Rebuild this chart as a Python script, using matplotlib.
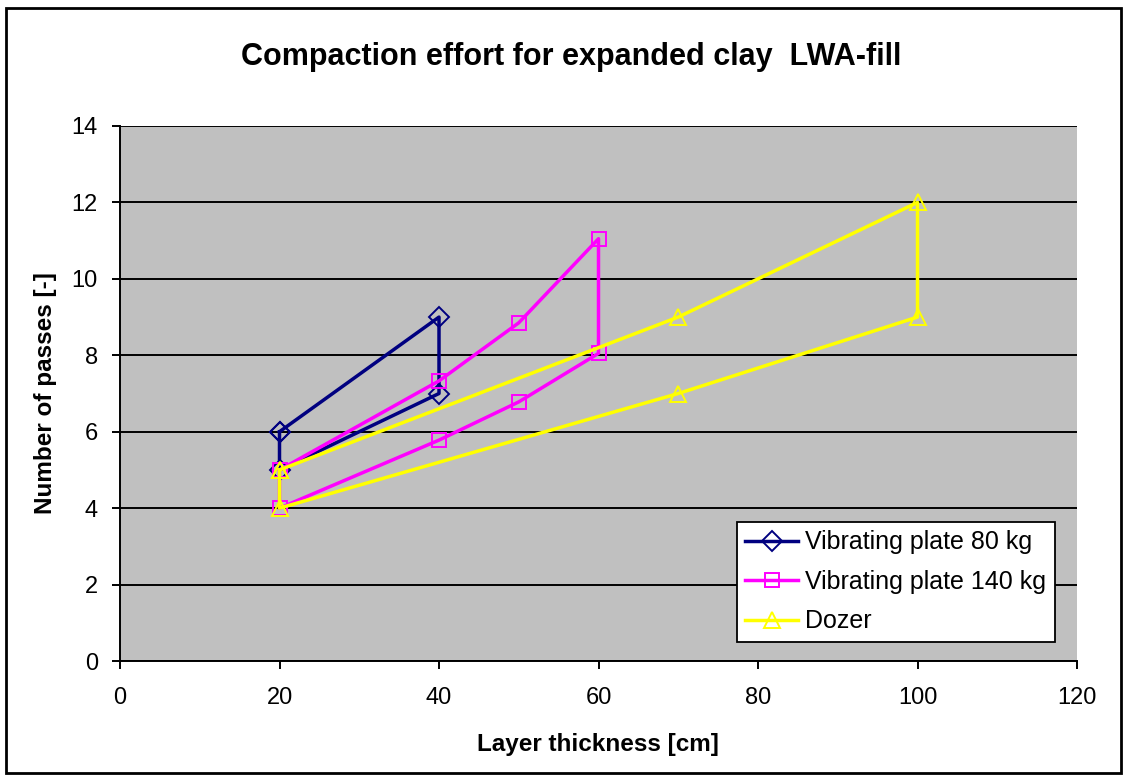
import matplotlib
matplotlib.use("Agg")
import matplotlib.pyplot as plt
from matplotlib.patches import Rectangle

plt.rcParams['font.family'] = ['Liberation Sans', 'DejaVu Sans']

# Data (closed outlines of each compaction range)
vp80_x = [20, 40, 40, 20, 20]
vp80_y = [6, 9, 7, 5, 6]

vp140_x = [20, 40, 50, 60, 60, 50, 40, 20, 20]
vp140_y = [5, 7.33, 8.85, 11.05, 8.05, 6.78, 5.78, 4, 5]

dozer_x = [20, 70, 100, 100, 70, 20, 20]
dozer_y = [5, 9, 12, 9, 7, 4, 5]

labels = ["Vibrating plate 80 kg", "Vibrating plate 140 kg", "Dozer"]
colors = ["#000080", "#FF00FF", "#FFFF00"]
markers = ["D", "s", "^"]

xticks = [0, 20, 40, 60, 80, 100, 120]
yticks = [0, 2, 4, 6, 8, 10, 12, 14]

fig = plt.figure(figsize=(11.23, 7.75), dpi=100)
ax = fig.add_axes([120/1123, 1-661/775, (1077-120)/1123, (661-126)/775])
ax.set_facecolor("#C0C0C0")

series = [(vp80_x, vp80_y), (vp140_x, vp140_y), (dozer_x, dozer_y)]
msizes = [10, 10, 12]
for (xs, ys), lab, c, m, ms in zip(series, labels, colors, markers, msizes):
    ax.plot(xs, ys, color=c, lw=2.5, marker=m, markersize=ms,
            markerfacecolor='none', markeredgecolor=c, markeredgewidth=1.4,
            label=lab, zorder=3)

ax.set_xlim(0, 120)
ax.set_ylim(0, 14)
ax.set_xticks(xticks)
ax.set_yticks(yticks)
ax.yaxis.grid(True, color='black', lw=1.4)
ax.set_axisbelow(True)
for s in ['top', 'right']:
    ax.spines[s].set_visible(False)
for s in ['left', 'bottom']:
    ax.spines[s].set_linewidth(1.4)
ax.tick_params(direction='out', length=6, width=1.4, labelsize=17)
ax.tick_params(axis='x', pad=13)
ax.tick_params(axis='y', pad=10)

fig.text(598/1123, 1-745/775, "Layer thickness [cm]", ha='center', va='center',
         fontsize=17.5, fontweight='bold')
fig.text(46/1123, 1-393/775, "Number of passes [-]", ha='center', va='center',
         rotation=90, fontsize=17.5, fontweight='bold')
fig.text(571/1123, 1-57/775, "Compaction effort for expanded clay  LWA-fill",
         ha='center', va='center', fontsize=22, fontweight='bold')

leg = ax.legend(loc='lower right', bbox_to_anchor=(1055/1123, 1-642/775),
                bbox_transform=fig.transFigure, fontsize=18, frameon=True,
                fancybox=False, edgecolor='black', framealpha=1,
                handlelength=2.1, borderpad=0.35, labelspacing=0.62,
                handletextpad=0.3, borderaxespad=0)
leg.get_frame().set_linewidth(1.3)

fig.patches.append(Rectangle((6/1123, 2/775), 1115/1123, 765/775,
                             transform=fig.transFigure, fill=False,
                             edgecolor='black', lw=2))

fig.savefig("out.png", dpi=100)
